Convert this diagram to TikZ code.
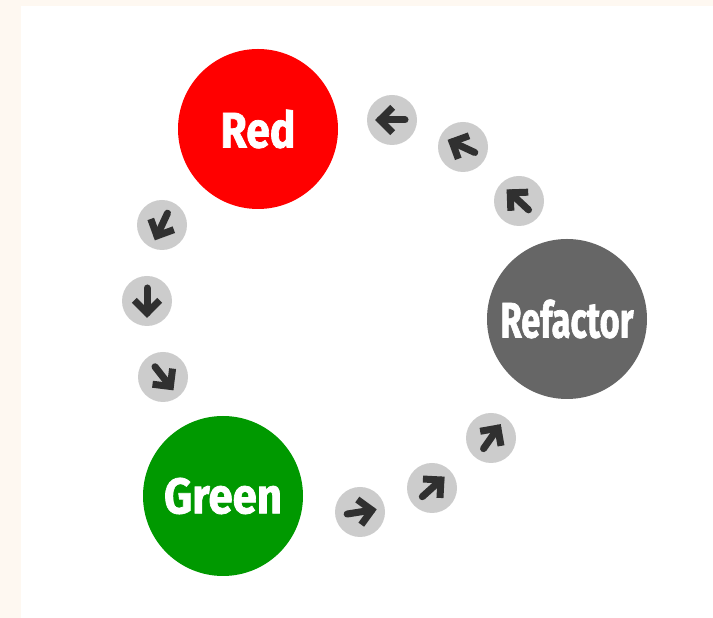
\documentclass[tikz,border=0pt]{standalone}
\usepackage{fontspec}
\newfontfamily\phasefont{Fira Sans}[BoldFeatures={FakeBold=1.5}]
\usepackage{xcolor}
\usepackage{graphicx}
\usetikzlibrary{positioning}

\definecolor{cream}{HTML}{FEF8F1}
\definecolor{redphase}{HTML}{FF0000}
\definecolor{greenphase}{HTML}{009900}
\definecolor{refactorphase}{HTML}{666666}
\definecolor{hopfill}{HTML}{CCCCCC}
\definecolor{hopink}{HTML}{303030}

\newcommand\phaselabel[2]{\resizebox{#1}{\height}{#2}}

\begin{document}
\begin{tikzpicture}
      [ x=1pt, y=1pt,
        phase/.style={circle, minimum size=160pt, inner sep=0pt, text=white,
          font=\phasefont\bfseries\fontsize{50}{50}\selectfont},
        hop/.style={circle, fill=hopfill, minimum size=50pt, inner sep=0pt},
        hoparrow/.style={draw=hopink, line width=7pt}
      ]
      \fill[cream] (0,0) rectangle (713,618);
      \fill[white] (21,0) rectangle (713,612);

      \node[phase,fill=redphase]      (red)      at (258,489) {\phaselabel{75pt}{Red}};
      \node[phase,fill=greenphase]    (green)    at (223,122) {\phaselabel{118pt}{Green}};
      \node[phase,fill=refactorphase] (refactor) at (567,299) {\phaselabel{133pt}{Refactor}};

      \foreach \x/\y/\a [count=\i] in {162/393/-115, 147/317/-90, 163/241/-52,
                                       360/106/9, 432/130/42, 491/180/55,
                                       519/417/137, 463/471/155, 392/498/180}
      {
        \node[hop] (hop\i) at (\x,\y) {};
        \draw[hoparrow, line cap=round] (hop\i.center) ++(\a+180:13) -- ++(\a:25);
        \draw[hoparrow, miter limit=3] (hop\i.center) ++(\a:12) ++(\a+135:18)
              -- ++(\a-45:18) -- ++(\a-135:18);
      }
    \end{tikzpicture}
\end{document}
